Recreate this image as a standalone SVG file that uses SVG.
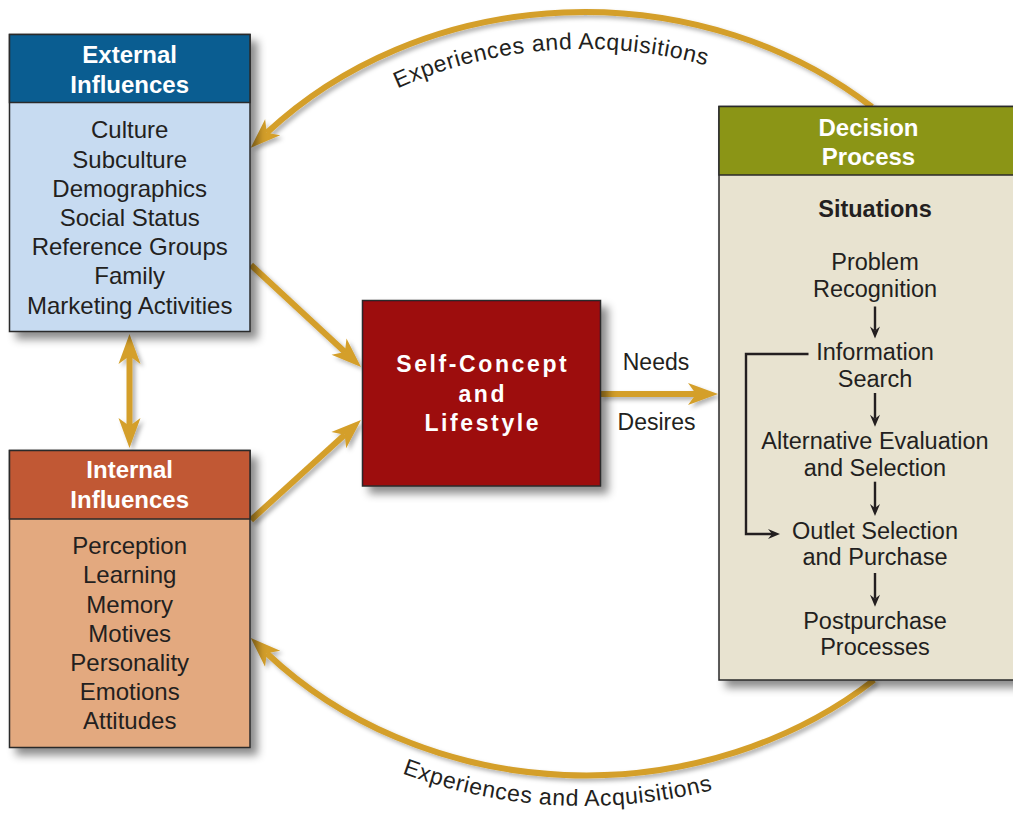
<svg xmlns="http://www.w3.org/2000/svg" width="1013" height="813" viewBox="0 0 1013 813">
<style>
text{font-family:"Liberation Sans",Arial,Helvetica,sans-serif;fill:#231f20}
.hd{font-weight:bold;font-size:24px;fill:#ffffff;text-anchor:middle}
.it{font-size:24px;text-anchor:middle}
.dp{font-size:23.5px;text-anchor:middle}
.sc{font-weight:bold;font-size:23px;fill:#ffffff;text-anchor:middle;letter-spacing:2.6px}
.lbl{font-size:23px;text-anchor:middle}
.arc{font-size:23px;letter-spacing:0.6px}
.box{stroke:#2a2a2a;stroke-width:1.5}
.gold{fill:none;stroke:#d49f2a;stroke-width:6}
.blk{fill:none;stroke:#231f20;stroke-width:2.4}
</style>
<defs>
<filter id="sh" x="-10%" y="-10%" width="130%" height="130%">
<feDropShadow dx="7" dy="7" stdDeviation="4" flood-color="#000" flood-opacity="0.45"/>
</filter>
<filter id="sh2" x="-10%" y="-10%" width="130%" height="130%">
<feDropShadow dx="3" dy="3" stdDeviation="2" flood-color="#000" flood-opacity="0.3"/>
</filter>
<marker id="ga" markerUnits="userSpaceOnUse" viewBox="-10 -12 34 24" refX="0" refY="0" markerWidth="34" markerHeight="24" orient="auto-start-reverse">
<path d="M22,0 L-8,-11 L0,0 L-8,11 Z" fill="#d49f2a"/>
</marker>
<marker id="ba" markerUnits="userSpaceOnUse" viewBox="-5 -6 16 12" refX="0" refY="0" markerWidth="16" markerHeight="12" orient="auto">
<path d="M8,0 L-4,-5 L0,0 L-4,5 Z" fill="#231f20"/>
</marker>
<path id="tp1" d="M184,393 A400,344 0 0 1 984,393"/>
<path id="tp2" d="M117,393 A467,413 0 0 0 1051,393"/>
</defs>
<rect width="1013" height="813" fill="#ffffff"/>

<g id="connectors">
<g filter="url(#sh2)">
<path class="gold" d="M872,107 A435,381 0 0 0 266.8,132.8" marker-end="url(#ga)"/>
<path class="gold" d="M874,680 A435,381 0 0 1 266.8,653.2" marker-end="url(#ga)"/>
<path class="gold" d="M251,265 L344.9,352" marker-end="url(#ga)"/>
<path class="gold" d="M251,520 L344.7,434.8" marker-end="url(#ga)"/>
<path class="gold" d="M129.5,356 L129.5,426" marker-start="url(#ga)" marker-end="url(#ga)"/>
<path class="gold" d="M600,394 L696,394" marker-end="url(#ga)"/>
</g>
<text class="arc"><textPath href="#tp1" startOffset="47.1%" text-anchor="middle">Experiences and Acquisitions</textPath></text>
<text class="arc"><textPath href="#tp2" startOffset="48%" text-anchor="middle">Experiences and Acquisitions</textPath></text>
<text class="lbl" x="656" y="370">Needs</text>
<text class="lbl" x="656.5" y="430">Desires</text>
</g>

<g id="external-influences">
<g filter="url(#sh)">
<rect class="box" x="9.5" y="34.5" width="240.5" height="297" fill="#c7dbf1"/>
</g>
<rect class="box" x="9.5" y="34.5" width="240.5" height="68" fill="#0a5d91"/>
<text class="hd" x="129.7" y="62.7">External</text>
<text class="hd" x="129.7" y="92.7">Influences</text>
<text class="it" x="129.7" y="138.3">Culture</text>
<text class="it" x="129.7" y="167.5">Subculture</text>
<text class="it" x="129.7" y="196.7">Demographics</text>
<text class="it" x="129.7" y="225.9">Social Status</text>
<text class="it" x="129.7" y="255.1">Reference Groups</text>
<text class="it" x="129.7" y="284.3">Family</text>
<text class="it" x="129.7" y="313.5">Marketing Activities</text>
</g>

<g id="internal-influences">
<g filter="url(#sh)">
<rect class="box" x="9.5" y="450.5" width="240.5" height="297" fill="#e3a97f"/>
</g>
<rect class="box" x="9.5" y="450.5" width="240.5" height="68.5" fill="#c15834"/>
<text class="hd" x="129.7" y="478.3">Internal</text>
<text class="hd" x="129.7" y="508.3">Influences</text>
<text class="it" x="129.7" y="554">Perception</text>
<text class="it" x="129.7" y="583.3">Learning</text>
<text class="it" x="129.7" y="612.6">Memory</text>
<text class="it" x="129.7" y="641.8">Motives</text>
<text class="it" x="129.7" y="671">Personality</text>
<text class="it" x="129.7" y="700.2">Emotions</text>
<text class="it" x="129.7" y="729.4">Attitudes</text>
</g>

<g id="self-concept">
<rect class="box" x="362.5" y="300.5" width="238" height="185.5" fill="#9d0710" filter="url(#sh)"/>
<text class="sc" x="482.8" y="372.3">Self-Concept</text>
<text class="sc" x="482.8" y="401.7">and</text>
<text class="sc" x="482.8" y="430.7">Lifestyle</text>
</g>

<g id="decision-process">
<g filter="url(#sh)">
<rect class="box" x="719" y="106.5" width="310" height="573.5" fill="#e8e3d0"/>
</g>
<rect class="box" x="719" y="106.5" width="310" height="68.5" fill="#8b9516"/>
<text class="hd" x="868.5" y="136">Decision</text>
<text class="hd" x="868.5" y="165">Process</text>
<text class="dp" x="875" y="216.7" style="font-weight:bold">Situations</text>
<text class="dp" x="875" y="270">Problem</text>
<text class="dp" x="875" y="296.7">Recognition</text>
<text class="dp" x="875" y="360">Information</text>
<text class="dp" x="875" y="386.7">Search</text>
<text class="dp" x="875" y="449.3">Alternative Evaluation</text>
<text class="dp" x="875" y="476">and Selection</text>
<text class="dp" x="875" y="539.3">Outlet Selection</text>
<text class="dp" x="875" y="565.3">and Purchase</text>
<text class="dp" x="875" y="629.3">Postpurchase</text>
<text class="dp" x="875" y="655">Processes</text>
<g id="decision-steps">
<path class="blk" d="M875,306.5 V330.5" marker-end="url(#ba)"/>
<path class="blk" d="M875,393 V418.7" marker-end="url(#ba)"/>
<path class="blk" d="M875,481.7 V508" marker-end="url(#ba)"/>
<path class="blk" d="M875,573 V598.7" marker-end="url(#ba)"/>
<path class="blk" d="M808.5,354 H746 V534 H772" marker-end="url(#ba)"/>
</g>
</g>
</svg>
